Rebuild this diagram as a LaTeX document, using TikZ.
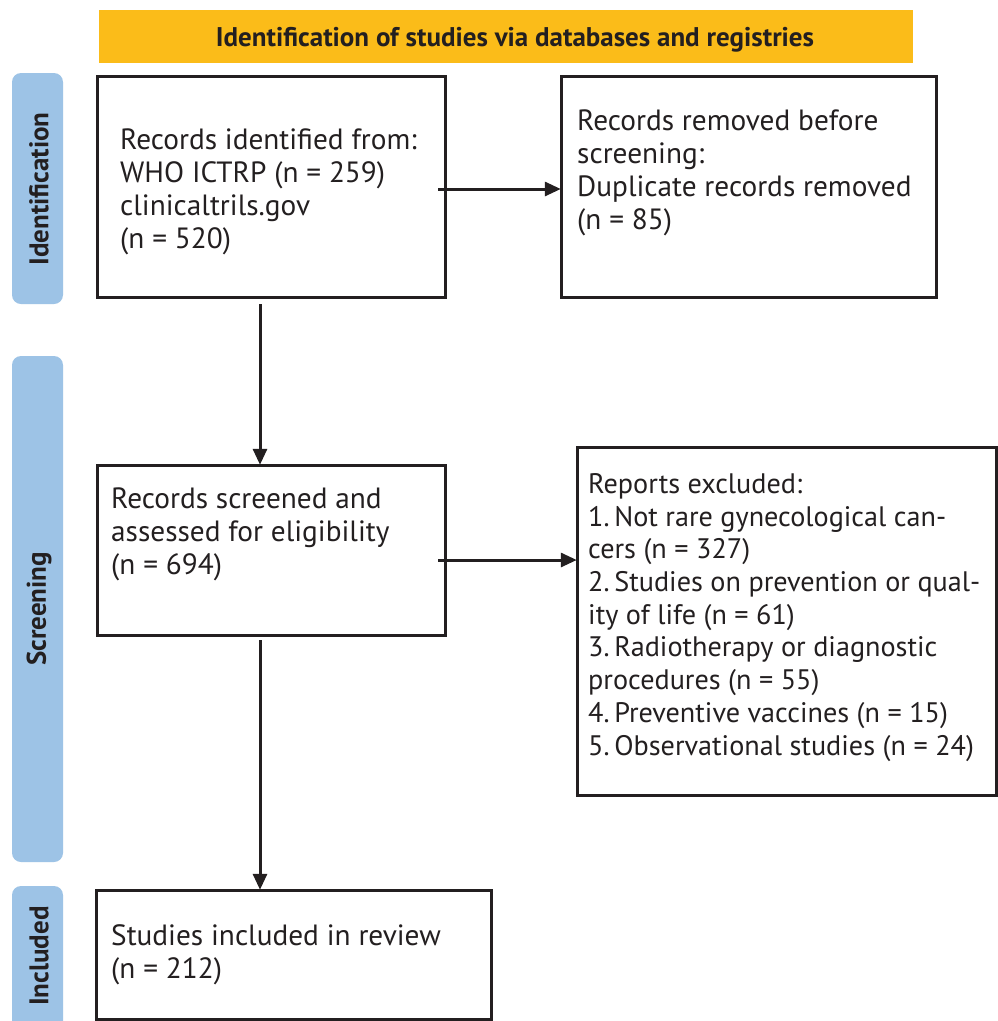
\documentclass[tikz,border=0pt]{standalone}
\usepackage{fontspec}
\setmainfont{PT Sans}
\usetikzlibrary{arrows.meta,calc}
\definecolor{banner}{HTML}{FBBC19}
\definecolor{phase}{HTML}{9DC3E6}
\definecolor{ink}{HTML}{231F20}
\begin{document}
\begin{tikzpicture}[x=1pt,y=-1pt,
  box/.style={draw=ink,line width=3pt,fill=white,inner sep=0pt},
  txt/.style={anchor=base west,align=left,inner sep=0pt,font=\fontsize{29.3}{32.7}\selectfont,text=ink},
  phasebox/.style={fill=phase,rounded corners=9pt},
  phasetxt/.style={rotate=90,font=\fontsize{27}{30}\selectfont\bfseries,text=ink},
  arr/.style={draw=ink,line width=3pt,-{Triangle[length=16pt,width=14pt]}}]
\clip (0,0) rectangle (998,1021);
\fill[white] (0,0) rectangle (998,1021);
% banner
\fill[banner] (99,10) rectangle (913,63);
\node[font=\fontsize{27}{30}\selectfont\bfseries,text=ink] (ban) at (515,40) {Identification of studies via databases and registries};
% phase labels
\fill[phasebox] (12,73) rectangle (63,304);
\node[phasetxt] (p1) at (39,189) {Identification};
\fill[phasebox] (12,356) rectangle (63,862);
\node[phasetxt] (p2) at (39,609) {Screening};
\fill[phasebox] (12,886) rectangle (63,1060);
\node[phasetxt] (p3) at (39,956) {Included};
% boxes
\draw[box] (97,76) rectangle (445,297);
\node[inner sep=0pt,minimum width=348pt,minimum height=221pt] (b1) at (271,186.5) {};
\draw[box] (561,76) rectangle (936,297);
\node[inner sep=0pt,minimum width=375pt,minimum height=221pt] (b2) at (748.5,186.5) {};
\draw[box] (97,465) rectangle (445,635);
\node[inner sep=0pt,minimum width=348pt,minimum height=170pt] (b3) at (271,550) {};
\draw[box] (577,447) rectangle (996,795);
\node[inner sep=0pt,minimum width=419pt,minimum height=348pt] (b4) at (786.5,621) {};
\draw[box] (96,890) rectangle (491,1019);
\node[inner sep=0pt,minimum width=395pt,minimum height=129pt] (b5) at (293.5,954.5) {};
% texts (anchored at the baseline of their last line)
\node[txt] (t1) at (120,248) {Records identified from:\\WHO ICTRP (n = 259)\\clinicaltrils.gov\\(n = 520)};
\node[txt] (t2) at (577,229) {Records removed before\\screening:\\Duplicate records removed\\(n = 85)};
\node[txt] (t3) at (111,574) {Records screened and\\assessed for eligibility\\(n = 694)};
\node[txt,font=\fontsize{28.2}{32.7}\selectfont] (t4) at (588,755) {Reports excluded:\\1.\,Not rare gynecological can-\\cers (n = 327)\\2.\,Studies on prevention or qual-\\ity of life (n = 61)\\3.\,Radiotherapy or diagnostic\\procedures (n = 55)\\4.\,Preventive vaccines (n = 15)\\5.\,Observational studies (n = 24)};
\node[txt] (t5) at (111,978) {Studies included in review\\(n = 212)};
% connectors
\coordinate (s1) at (438,189);
\draw[arr] (s1) -- (s1 -| b2.west);
\coordinate (s2) at (260,304);
\draw[arr] (s2) -- (s2 |- b3.north);
\coordinate (s3) at (438,560);
\draw[arr] (s3) -- (s3 -| b4.west);
\coordinate (s4) at (260,640);
\draw[arr] (s4) -- (s4 |- b5.north);
\end{tikzpicture}
\end{document}
